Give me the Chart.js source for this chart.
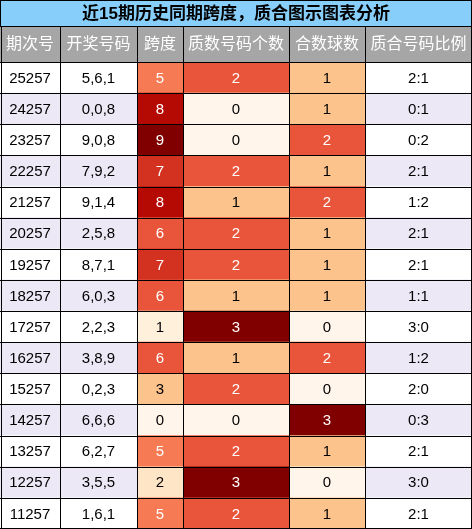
<!DOCTYPE html>
<html>
<head>
<meta charset="utf-8">
<script src="https://cdn.jsdelivr.net/npm/chart.js@4"></script>
<style>
  body { margin: 0; background: #fff; }
  #wrap { width: 472px; height: 529px; }
</style>
</head>
<body>
<div id="wrap"><canvas id="tableChart"></canvas></div>
<script>
var title = '近15期历史同期跨度，质合图示图表分析';
var headers = ['期次号', '开奖号码', '跨度', '质数号码个数', '合数球数', '质合号码比例'];
var colEdges = [0, 60, 137, 183, 289, 365, 472];

var periods = ['25257', '24257', '23257', '22257', '21257', '20257', '19257', '18257', '17257', '16257', '15257', '14257', '13257', '12257', '11257'];
var draws = ['5,6,1', '0,0,8', '9,0,8', '7,9,2', '9,1,4', '2,5,8', '8,7,1', '6,0,3', '2,2,3', '3,8,9', '0,2,3', '6,6,6', '6,2,7', '3,5,5', '1,6,1'];
var spans = [5, 8, 9, 7, 8, 6, 7, 6, 1, 6, 3, 0, 5, 2, 5];
var primeCounts = [2, 0, 0, 2, 1, 2, 2, 1, 3, 1, 2, 0, 2, 3, 2];
var compositeCounts = [1, 1, 2, 1, 2, 1, 1, 1, 0, 2, 0, 3, 1, 0, 1];
var ratios = ['2:1', '0:1', '0:2', '2:1', '1:2', '2:1', '2:1', '1:1', '3:0', '1:2', '2:0', '0:3', '2:1', '3:0', '2:1'];

// colour ramps (OrRd-like)
var spanColors = ['#fff5eb', '#fff0dc', '#fee5c6', '#fdc38d', '#fca26c', '#f67a54', '#e8553b', '#d43220', '#b50a03', '#800000'];
var countColors = ['#fff5eb', '#fdc38d', '#e8553b', '#800000'];
var stripe = ['#ffffff', '#ece8f6'];

function stripes() { return periods.map(function (p, i) { return stripe[i % 2]; }); }
function range(c) { return periods.map(function () { return [colEdges[c], colEdges[c + 1]]; }); }

var columns = [
  { text: periods, bg: stripes(), fg: periods.map(function () { return '#000'; }) },
  { text: draws, bg: stripes(), fg: draws.map(function () { return '#000'; }) },
  { text: spans, bg: spans.map(function (v) { return spanColors[v]; }), fg: spans.map(function (v) { return v >= 5 ? '#fff' : '#000'; }) },
  { text: primeCounts, bg: primeCounts.map(function (v) { return countColors[v]; }), fg: primeCounts.map(function (v) { return v >= 2 ? '#fff' : '#000'; }) },
  { text: compositeCounts, bg: compositeCounts.map(function (v) { return countColors[v]; }), fg: compositeCounts.map(function (v) { return v >= 2 ? '#fff' : '#000'; }) },
  { text: ratios, bg: stripes(), fg: ratios.map(function () { return '#000'; }) }
];

var tablePlugin = {
  id: 'tablePlugin',
  afterDraw: function (chart) {
    var ctx = chart.ctx, x = chart.scales.x, area = chart.chartArea;
    var titleH = 26, headTop = 26, headBot = area.top;
    ctx.save();
    ctx.fillStyle = '#87cefa';
    ctx.fillRect(0, 0, chart.width, titleH);
    ctx.fillStyle = '#a6a6a6';
    ctx.fillRect(0, headTop, chart.width, headBot - headTop);
    ctx.textAlign = 'center';
    ctx.textBaseline = 'middle';
    ctx.fillStyle = '#000';
    ctx.font = 'bold 17px "Liberation Sans", "Noto Sans CJK SC", sans-serif';
    ctx.fillText(title, chart.width / 2, titleH / 2 + 1);
    ctx.fillStyle = '#fff';
    ctx.font = '16px "Liberation Sans", "Noto Sans CJK SC", sans-serif';
    headers.forEach(function (h, c) {
      var cx = (x.getPixelForValue(colEdges[c]) + x.getPixelForValue(colEdges[c + 1])) / 2;
      ctx.fillText(h, cx, (headTop + headBot) / 2 + 1);
    });
    // cell text
    ctx.font = '15px "Liberation Sans", "Noto Sans CJK SC", sans-serif';
    chart.data.datasets.forEach(function (ds, c) {
      chart.getDatasetMeta(c).data.forEach(function (bar, i) {
        var p = bar.getProps(['x', 'base', 'y'], true);
        ctx.fillStyle = columns[c].fg[i];
        ctx.fillText(String(columns[c].text[i]), (p.x + p.base) / 2, p.y + 1);
      });
    });
    // grid lines
    ctx.strokeStyle = '#000';
    ctx.lineWidth = 1;
    ctx.beginPath();
    ctx.moveTo(0, titleH + 0.5); ctx.lineTo(chart.width, titleH + 0.5);
    colEdges.forEach(function (e) {
      var px = Math.round(Math.min(Math.max(x.getPixelForValue(e), 0.5), chart.width - 0.5)) + 0.5;
      if (px > chart.width) px = chart.width - 0.5;
      ctx.moveTo(px, headTop); ctx.lineTo(px, area.bottom);
    });
    var y = chart.scales.y;
    for (var i = 0; i <= periods.length; i++) {
      var py = i === 0 ? area.top : (i === periods.length ? area.bottom - 0.5 : (y.getPixelForValue(i - 1) + y.getPixelForValue(i)) / 2);
      py = Math.round(py) + 0.5;
      if (py > area.bottom) py = area.bottom - 0.5;
      ctx.moveTo(0, py); ctx.lineTo(chart.width, py);
    }
    ctx.moveTo(0.5, 0); ctx.lineTo(0.5, titleH);
    ctx.moveTo(chart.width - 0.5, 0); ctx.lineTo(chart.width - 0.5, titleH);
    ctx.moveTo(0, 0.5); ctx.lineTo(chart.width, 0.5);
    ctx.stroke();
    ctx.restore();
  }
};

new Chart(document.getElementById('tableChart'), {
  type: 'bar',
  data: {
    labels: periods,
    datasets: columns.map(function (col, c) {
      return {
        label: headers[c],
        data: range(c),
        backgroundColor: col.bg,
        borderWidth: 0,
        barPercentage: 1,
        categoryPercentage: 1,
        grouped: false
      };
    })
  },
  options: {
    indexAxis: 'y',
    responsive: true,
    maintainAspectRatio: false,
    animation: false,
    layout: { padding: { top: 62, left: 0, right: 0, bottom: 0 } },
    plugins: { legend: { display: false }, title: { display: false }, tooltip: { enabled: false } },
    scales: {
      x: { type: 'linear', min: 0, max: 472, display: false },
      y: { display: false }
    }
  },
  plugins: [tablePlugin]
});
</script>
</body>
</html>
